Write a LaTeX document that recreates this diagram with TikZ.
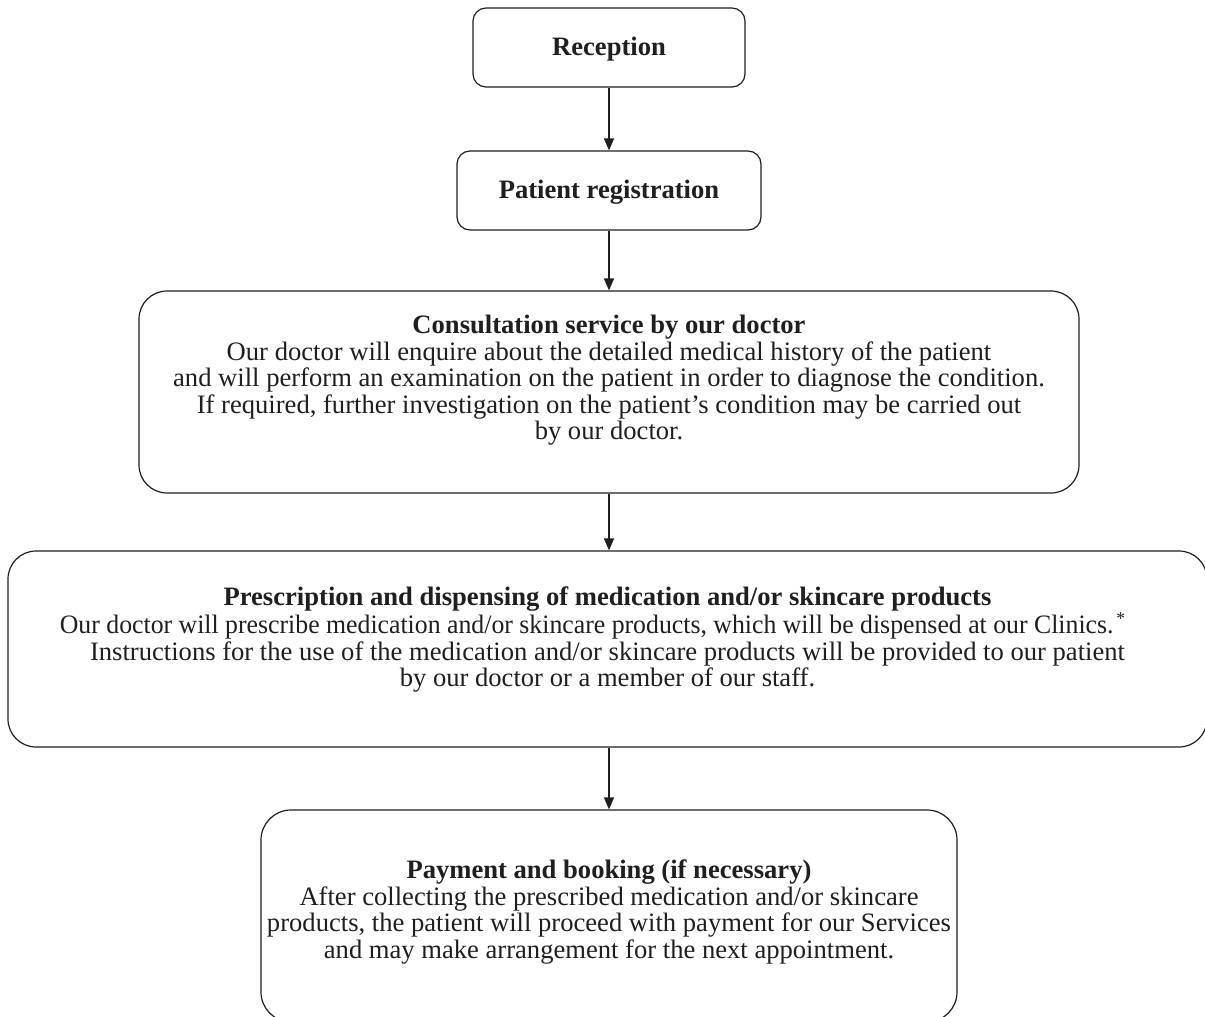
\documentclass[tikz,border=0pt]{standalone}
\usepackage{fontspec}
\usepackage{graphicx}
\setmainfont{Liberation Serif}
\usetikzlibrary{arrows.meta}
\colorlet{ink}{black!88}
% body of a big step box: height, width, space kept below the text, text
\newcommand{\stepbody}[4]{\parbox[c][#1][c]{#2}{\centering #4\par\vspace{#3}}}

\begin{document}
\begin{tikzpicture}[x=0.5pt, y=-0.5pt]
  \tikzset{bx/.style={draw=ink, text=ink, line width=0.6pt, rounded corners=14pt, inner sep=0pt, font=\fontsize{13.3}{13.25}\selectfont},
    small/.style={bx, rounded corners=6.5pt, minimum height=39.5pt, text height=10.5pt},
    flow/.style={draw=ink, line width=0.7pt, -{Triangle[length=6pt, width=5pt]}}}
\useasboundingbox (0,0) rectangle (1205,1017);
\node[small, minimum width=136pt] (rec) at (609,47.5) {\textbf{Reception}};
\node[small, minimum width=152pt] (reg) at (609,190.5) {\textbf{Patient registration}};
\node[bx, minimum width=470pt] (cons) at (609,392) {\stepbody{101pt}{470pt}{11.5pt}{%
  \textbf{Consultation service by our doctor}\\
  Our doctor will enquire about the detailed medical history of the patient\\
  and will perform an examination on the patient in order to diagnose the condition.\\
  If required, further investigation on the patient’s condition may be carried out\\
  by our doctor.}};
\node[bx, minimum width=599.5pt] (presc) at (607.5,649) {\stepbody{98pt}{599.5pt}{9.5pt}{%
  \textbf{Prescription and dispensing of medication and/or skincare products}\\
  \scalebox{0.969}[1]{Our doctor will prescribe medication and/or skincare products, which will be dispensed at our Clinics.\kern1.5pt\raisebox{4.5pt}{\small *}}\kern15pt\\
  Instructions for the use of the medication and/or skincare products will be provided to our patient\\
  by our doctor or a member of our staff.}};
\node[bx, rounded corners=15pt, minimum width=348pt] (pay) at (609,916) {\stepbody{106pt}{348pt}{4pt}{%
  \textbf{Payment and booking (if necessary)}\\
  After collecting the prescribed medication and/or skincare\\
  products, the patient will proceed with payment for our Services\\
  and may make arrangement for the next appointment.}};
\draw[flow] (rec) -- (reg);
\draw[flow] (reg) -- (cons);
\draw[flow] (cons.south) -- (cons.south |- presc.north);
\draw[flow] (presc.south -| pay.north) -- (pay);

\end{tikzpicture}
\end{document}
